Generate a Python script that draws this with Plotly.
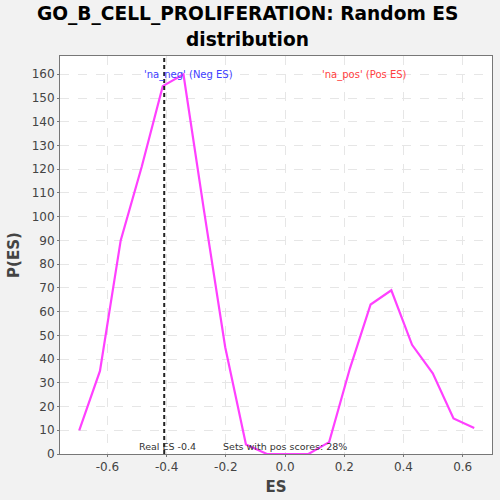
import plotly.graph_objects as go

es_values = [-0.695, -0.625, -0.555, -0.484, -0.413, -0.343, -0.273, -0.202, -0.132, -0.061,
             0.009, 0.079, 0.149, 0.219, 0.289, 0.359, 0.429, 0.499, 0.569, 0.639]
p_es = [10, 35, 90, 121, 155, 160, 102, 45, 4, 0,
        0, 0, 5, 36, 63, 69, 46, 34, 15, 11]
real_es = -0.408
x_ticks = [-0.6, -0.4, -0.2, 0.0, 0.2, 0.4, 0.6]
x_tick_labels = ["-0.6", "-0.4", "-0.2", "0.0", "0.2", "0.4", "0.6"]
y_ticks = list(range(0, 161, 10))
title_lines = ["GO_B_CELL_PROLIFERATION: Random ES", "distribution"]

fig = go.Figure()
fig.add_trace(go.Scatter(x=es_values, y=p_es, mode="lines",
                         line=dict(color="#ff40ff", width=2.2), showlegend=False,
                         hoverinfo="skip"))
fig.add_shape(type="line", x0=real_es, x1=real_es, xref="x", y0=0, y1=1, yref="paper",
              line=dict(color="#222222", width=2, dash="4px,3px"))

fig.add_annotation(x=real_es + 0.082, y=0.972, xref="x", yref="paper",
                   text="'na_neg' (Neg ES)", showarrow=False,
                   font=dict(family="DejaVu Sans", size=10, color="#4040ff"))
fig.add_annotation(x=0.27, y=0.972, xref="x", yref="paper",
                   text="'na_pos' (Pos ES)", showarrow=False,
                   font=dict(family="DejaVu Sans", size=10, color="#ff4040"))
fig.add_annotation(x=real_es + 0.01, y=0.0, xref="x", yref="paper", yanchor="bottom",
                   text="Real ES -0.4", showarrow=False,
                   font=dict(family="DejaVu Sans", size=9.5, color="#333333"))
fig.add_annotation(x=0.0, y=0.0, xref="x", yref="paper", yanchor="bottom",
                   text="Sets with pos scores: 28%", showarrow=False,
                   font=dict(family="DejaVu Sans", size=9.5, color="#333333"))

for line_text, ypos in zip(title_lines, [1.1055, 1.0427]):
    fig.add_annotation(x=0.435, y=ypos, xref="paper", yref="paper",
                       xanchor="center", yanchor="middle",
                       text="<b>" + line_text + "</b>", showarrow=False,
                       font=dict(family="DejaVu Sans", size=18.6, color="#000000"))

fig.update_layout(
    width=500, height=500,
    margin=dict(l=60, r=8, t=56, b=46),
    paper_bgcolor="#f2f2f2", plot_bgcolor="#ffffff",
    xaxis=dict(range=[-0.760, 0.699], tickvals=x_ticks, ticktext=x_tick_labels,
               showgrid=True, gridcolor="#e6e6e6", griddash="dash", gridwidth=1,
               zeroline=False, showline=True, linecolor="#777777", linewidth=1, mirror=True,
               ticks="outside", ticklen=2, tickcolor="#777777",
               tickfont=dict(family="DejaVu Sans", size=12, color="#444444"),
               title=dict(text="<b>ES</b>", standoff=8,
                          font=dict(family="DejaVu Sans", size=15, color="#444444"))),
    yaxis=dict(range=[0, 167.7], tickvals=y_ticks,
               showgrid=True, gridcolor="#e6e6e6", griddash="dash", gridwidth=1,
               zeroline=False, showline=True, linecolor="#777777", linewidth=1, mirror=True,
               ticks="outside", ticklen=2, tickcolor="#777777",
               tickfont=dict(family="DejaVu Sans", size=12, color="#444444"),
               title=dict(text="<b>P(ES)</b>", standoff=8,
                          font=dict(family="DejaVu Sans", size=15, color="#444444"))),
)

fig.write_html("out.html", config={"displayModeBar": False},
               post_script="document.body.style.margin='0';document.body.style.overflow='hidden';document.body.style.background='#f2f2f2';")
